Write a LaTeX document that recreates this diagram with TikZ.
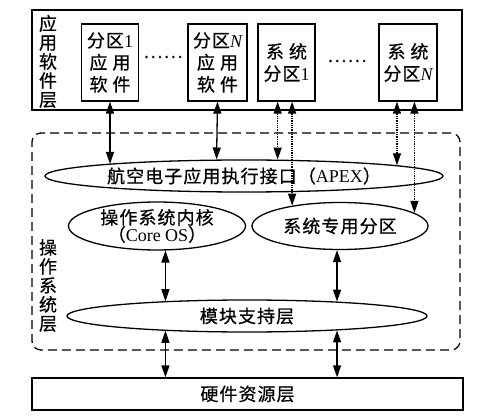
\documentclass[tikz,border=0pt]{standalone}
\usepackage{fontspec}
\setmainfont{Liberation Serif}
\newfontfamily\cjk[LetterSpace=6,FakeBold=0.6]{Noto Sans CJK SC}
\usetikzlibrary{arrows.meta, positioning, shapes.geometric}
\newcommand{\lat}[1]{{\rmfamily #1}}
\newcommand{\latN}{{\rmfamily\itshape N}}

\begin{document}
\begin{tikzpicture}[x=1pt,y=-1pt,node distance=100pt,on grid,>={Triangle[length=12pt,width=8pt]},
        line width=1.3pt, font=\cjk\fontsize{18}{22}\selectfont,
        layerbox/.style={draw,rectangle,inner sep=0pt},
        partbox/.style={draw,rectangle,minimum width=57pt,minimum height=77pt,inner sep=0pt,align=center},
        osbox/.style={draw,rectangle,rounded corners=9pt,dash pattern=on 9pt off 5pt},
        oval/.style={draw,ellipse,inner sep=0pt,align=center},
        vlabel/.style={align=center,inner sep=0pt,font=\cjk\fontsize{18}{19}\selectfont},
        calls/.style={<->,densely dotted}]
    \useasboundingbox (0,0) rectangle (489,419);

      % application software layer
      \node[layerbox,minimum width=430pt,minimum height=100pt] (app) at (247,60) {};
      \node[vlabel] (app_l) at (48,61.5) {应\\用\\软\\件\\层};
      \node[partbox]                    (p_1) at (110,62.5)          {分区\lat{1}\\应\hspace{5pt}用\\软\hspace{5pt}件};
      \node[partbox,minimum width=59pt] (p_N) [right=107.5pt of p_1] {分区\latN\\应\hspace{5pt}用\\软\hspace{5pt}件};
      \node[partbox]                    (s_1) [right=69pt of p_N]    {系\hspace{5pt}统\\分区\lat{1}};
      \node[partbox,minimum width=58pt] (s_N) [right=121.5pt of s_1] {系\hspace{5pt}统\\分区\latN};
      \node[inner sep=0pt] (d_1) at (163,57) {……};
      \node[inner sep=0pt] (d_2) at (347,61) {……};

      % operating system layer
      \node[osbox,minimum width=428pt,minimum height=217pt] (os) at (246,241.5) {};
      \node[vlabel] (os_l) at (48,285.5) {操\\作\\系\\统\\层};
      \node[oval,minimum width=398pt,minimum height=32pt] (apex) at (244,176) {航空电子应用执行接口（\lat{APEX}）};
      \node[oval,minimum width=177pt,minimum height=47pt,font=\cjk\fontsize{18}{17}\selectfont] (core) at (157,226) {操作系统内核\\（\lat{Core OS}）};
      \node[oval,minimum width=176pt,minimum height=47pt] (sysp) at (340,226) {系统专用分区};
      \node[oval,minimum width=360pt,minimum height=32pt] (msl) at (247,316) {模块支持层};

      % hardware layer
      \node[layerbox,minimum width=431pt,minimum height=32pt] (hw) at (247.5,394) {硬件资源层};

      \path[<->] (p_1.south) edge (p_1.south |- apex.175)
                 (p_N.south) edge (apex.149)
                 (core.289) edge (core.289 |- msl.170)
                 (sysp.263) edge (sysp.263 |- msl.9)
                 (core.289 |- msl.190) edge (core.289 |- hw.north)
                 (sysp.263 |- msl.-9) edge (sysp.263 |- hw.north);
      \path[calls] (apex.26 |- s_1.south) edge (apex.26)
                   (sysp.157 |- s_1.south) edge (sysp.157)
                   (apex.4 |- s_N.south) edge (apex.4)
                   (sysp.10 |- s_N.south) edge (sysp.10);
    \end{tikzpicture}
\end{document}
